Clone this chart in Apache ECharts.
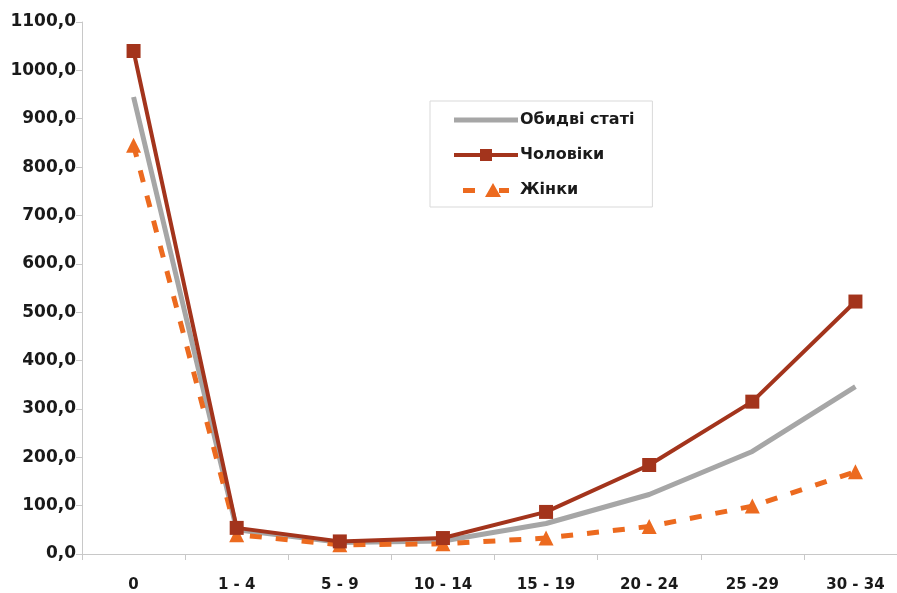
<!DOCTYPE html>
<html>
<head>
<meta charset="utf-8">
<script src="https://cdn.jsdelivr.net/npm/echarts@6/dist/echarts.min.js"></script>
<style>
html, body { margin: 0; padding: 0; background: #fff; overflow: hidden; }
#main { width: 912px; height: 593px; }
</style>
</head>
<body>
<div id="main"></div>
<script>
// вікові групи
var categories = ['0', '1 - 4', '5 - 9', '10 - 14', '15 - 19', '20 - 24', '25 -29', '30 - 34'];

var bothSexes = [945, 50, 24, 27, 63, 123, 212, 346];   // Обидві статі
var males     = [1040, 54, 26, 33, 87, 184, 315, 522];  // Чоловіки
var females   = [845, 40, 19, 21, 33, 57, 99, 170];     // Жінки

var yTicks = { min: 0, max: 1100, step: 100 };

// полотно трохи ширше за вікно: остання категорія обрізана справа, як в оригіналі
var myChart = echarts.init(document.getElementById('main'));

var font = 'DejaVu Sans, Verdana, sans-serif';

// значки легенди (лінія + маркер)
var iconGray   = 'path://M0,0H64V5H0Z';
var iconMale   = 'path://M0,4H26V0H38V4H64V8H38V12H26V8H0Z';
var iconFemale = 'path://M0,5H12V10H0Z M22,14L30,0L38,14Z M36,5H46V10H36Z';

var option = {
	animation : false,
	backgroundColor : '#fff',
	grid : {
		left : 82,
		top : 22,
		height : 532,
		width : 825
	},
	legend : {
		orient : 'vertical',
		left : 430,
		top : 101,
		padding : [ 11, 18, 9, 24 ],
		borderColor : '#d9d9d9',
		borderWidth : 1,
		itemWidth : 64,
		itemHeight : 14,
		itemGap : 19,
		symbolKeepAspect : true,
		textStyle : {
			fontFamily : font,
			fontSize : 16,
			fontWeight : 'bold',
			color : '#1a1a1a',
			padding : [ 0, 0, 0, -3 ]
		},
		data : [
			{ name : 'Обидві статі', icon : iconGray },
			{ name : 'Чоловіки', icon : iconMale },
			{ name : 'Жінки', icon : iconFemale }
		]
	},
	xAxis : {
		type : 'category',
		boundaryGap : true,
		data : categories,
		axisLine : { lineStyle : { color : '#c8c8c8', width : 1 } },
		axisTick : { show : true, length : 6, lineStyle : { color : '#c8c8c8' } },
		axisLabel : {
			margin : 24,
			fontFamily : font,
			fontSize : 15,
			fontWeight : 'bold',
			color : '#1a1a1a'
		}
	},
	yAxis : {
		type : 'value',
		min : yTicks.min,
		max : yTicks.max,
		interval : yTicks.step,
		splitLine : { show : false },
		axisLine : { show : true, lineStyle : { color : '#c8c8c8', width : 1 } },
		axisTick : { show : true, length : 6, lineStyle : { color : '#c8c8c8' } },
		axisLabel : {
			margin : 6,
			fontFamily : font,
			fontSize : 17,
			fontWeight : 'bold',
			color : '#1a1a1a',
			formatter : function(v) {
				return v.toFixed(1).replace('.', ',');
			}
		}
	},
	series : [ {
		name : 'Обидві статі',
		type : 'line',
		data : bothSexes,
		symbol : 'none',
		color : '#a6a6a6',
		lineStyle : { color : '#a6a6a6', width : 5 },
		z : 2
	}, {
		name : 'Чоловіки',
		type : 'line',
		data : males,
		symbol : 'rect',
		symbolSize : 14,
		color : '#a3341c',
		itemStyle : { color : '#a3341c' },
		lineStyle : { color : '#a3341c', width : 4 },
		z : 4
	}, {
		name : 'Жінки',
		type : 'line',
		data : females,
		symbol : 'triangle',
		symbolSize : 15,
		color : '#ec6a1f',
		itemStyle : { color : '#ec6a1f' },
		lineStyle : { color : '#ec6a1f', width : 5, type : [ 12, 14 ] },
		z : 3
	} ]
};

myChart.setOption(option);
</script>
</body>
</html>
